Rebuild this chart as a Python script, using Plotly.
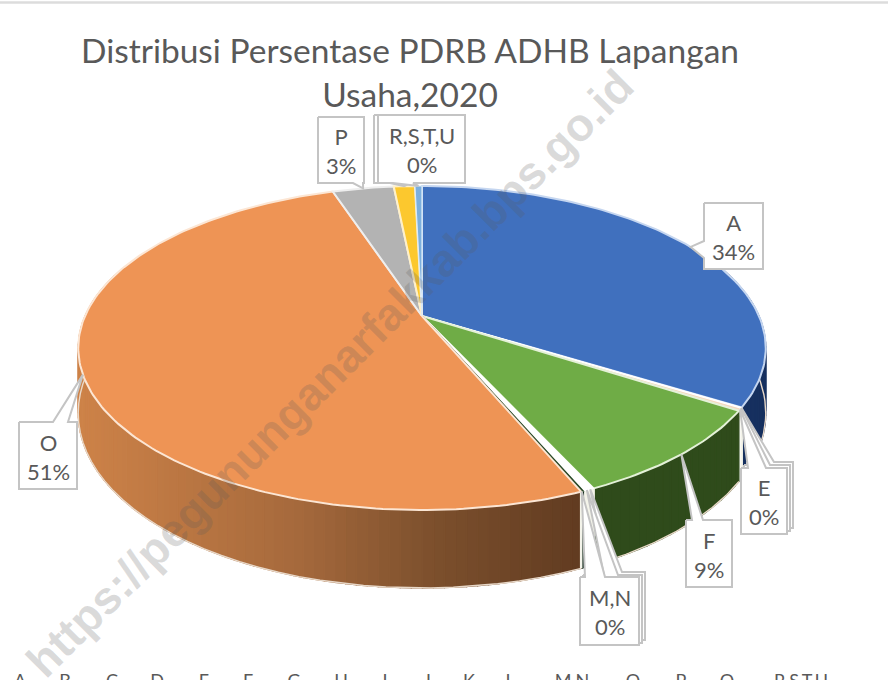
import math
import plotly.graph_objects as go

TITLE = "Distribusi Persentase PDRB ADHB Lapangan<br>Usaha,2020"
WATERMARK = "https://pegununganarfakkab.bps.go.id"

categories = ["A", "B", "C", "D", "E", "F", "G", "H", "I", "J", "K", "L", "M,N", "O", "P", "Q", "R,S,T,U"]
values = [33.85, 0.02, 0.02, 0.02, 0.25, 9.00, 0.10, 0.10, 0.05, 0.10, 0.10, 0.05, 0.05, 51.25, 3.49, 1.20, 0.40]
labels_pct = {"A": "34%", "E": "0%", "F": "9%", "M,N": "0%", "O": "51%", "P": "3%", "R,S,T,U": "0%"}

top_colors = ["#4070BE", "#ED7D31", "#A5A5A5", "#FFC000", "#F6D8C0", "#6FAC46", "#FFFFFF", "#FFFFFF",
              "#FFFFFF", "#FFFFFF", "#FFFFFF", "#43682B", "#43682B", "#EE9455", "#B3B3B3", "#FCC82E", "#7CAFDD"]
rim_colors = ["#C5D6F0", "#FFFFFF", "#FFFFFF", "#FFFFFF", "#FFFFFF", "#E4F1D8", "#FFFFFF", "#FFFFFF",
              "#FFFFFF", "#FFFFFF", "#FFFFFF", "#2A4A2A", "#2A4A2A", "#FCE6D4", "#EEEEEE", "#FFF0C8", "#DCEBF8"]
wall_colors = ["#16305F", "#FFFFFF", "#FFFFFF", "#FFFFFF", "#FFFFFF", "#2F4B1B", "#F4F4EA", "#F4F4EA",
               "#F4F4EA", "#F4F4EA", "#F4F4EA", "#10281A", "#10281A", None, "#777777", "#A08020", "#406080"]

# projection of the tilted disc on the page (page pixels as axis units)
CX, CY, A, B, K = 422.0, 316.0, 337.0, 155.7, 0.1975
W, H, CLIP = 888, 700, 680


def project(theta):
    u, v = math.sin(theta), math.cos(theta)
    d = 1 + K * v
    return CX + A * u / d, CY - B * v / d


def depth(theta):
    return 62 + 16 * max(0.0, -math.cos(theta))


def orange_wall(x):
    stops = [(80, (205, 130, 72)), (300, (165, 105, 60)), (430, (125, 80, 45)), (575, (98, 60, 33))]
    for (x0, c0), (x1, c1) in zip(stops, stops[1:]):
        if x <= x1:
            t = max(0.0, (x - x0) / (x1 - x0))
            return "rgb(%d,%d,%d)" % tuple(round(a + (b - a) * t) for a, b in zip(c0, c1))
    return "rgb(98,60,33)"


total = sum(values)
edges = [0.0]
for val in values:
    edges.append(edges[-1] + val / total * 2 * math.pi)
mid = {c: (edges[i] + edges[i + 1]) / 2 for i, c in enumerate(categories)}

fig = go.Figure()


def poly(xs, ys, fill, line, width=1.0, name=None, mode="lines"):
    fig.add_trace(go.Scatter(x=xs, y=ys, mode=mode, fill="toself" if fill else None, fillcolor=fill,
                             line=dict(color=line, width=width), hoverinfo="skip" if name is None else "text",
                             text=name, showlegend=False))


# side wall
for i, cat in enumerate(categories):
    a0, a1 = edges[i], edges[i + 1]
    n = max(1, int((a1 - a0) / math.radians(1.5)))
    for j in range(n):
        t0 = a0 + (a1 - a0) * j / n
        t1 = a0 + (a1 - a0) * (j + 1) / n
        if math.cos(t0) > 0.3 and math.cos(t1) > 0.3:
            continue
        ts = [t0 + (t1 - t0) * s / 2 for s in range(3)]
        top = [project(t) for t in ts]
        bot = [(project(t)[0], project(t)[1] + depth(t)) for t in ts]
        pts = top + bot[::-1]
        col = wall_colors[i] or orange_wall(sum(p[0] for p in top) / 3)
        poly([p[0] for p in pts] + [pts[0][0]], [p[1] for p in pts] + [pts[0][1]], col, col, 1.2)

# light edges of the wall
for i, cat in enumerate(categories):
    if cat not in ("A", "F", "O"):
        continue
    n = 60
    ts = [edges[i] + (edges[i + 1] - edges[i]) * s / n for s in range(n + 1)]
    ts = [t for t in ts if math.cos(t) < 0.2]
    poly([project(t)[0] for t in ts], [project(t)[1] + depth(t) for t in ts], None, "#E8D8C8", 1.4)
for idx in (0, 5, 12):
    t = edges[idx + 1]
    x, y = project(t)
    poly([x, x], [y, y + depth(t)], None, "#F4F4EA", 2.5)

# top face
for i, cat in enumerate(categories):
    a0, a1 = edges[i], edges[i + 1]
    n = max(2, int((a1 - a0) / math.radians(1)))
    arc = [project(a0 + (a1 - a0) * s / n) for s in range(n + 1)]
    xs = [CX] + [p[0] for p in arc] + [CX]
    ys = [CY] + [p[1] for p in arc] + [CY]
    poly(xs, ys, top_colors[i], rim_colors[i], 2 if values[i] > 1 else 1.2, name="%s: %s%%" % (cat, values[i]))


# callouts
def callout(box, base, side, tip):
    x0, y0, x1, y1 = box
    if side == "top":
        pts = [(x0, y0), (base[0], y0), tip, (base[1], y0), (x1, y0), (x1, y1), (x0, y1), (x0, y0)]
    elif side == "bottom":
        pts = [(x0, y0), (x1, y0), (x1, y1), (base[1], y1), tip, (base[0], y1), (x0, y1), (x0, y0)]
    else:
        pts = [(x0, y0), (x1, y0), (x1, y1), (x0, y1), (x0, base[1]), tip, (x0, base[0]), (x0, y0)]
    poly([p[0] for p in pts], [p[1] for p in pts], "#FFFFFF", "#C4C4C4", 2)


stack = [
    ((747, 462, 793, 528), (756, 774), "top", "C"),
    ((744, 465, 790, 531), (753, 770), "top", "D"),
    ((741, 468, 787, 534), (748, 766), "top", "E"),
    ((686, 520, 732, 587), (692, 703), "top", "F"),
    ((586, 572, 645, 640), (608, 622), "top", "H"),
    ((583, 575, 642, 643), (604, 618), "top", "J"),
    ((580, 577, 639, 645), (585, 605), "top", "M,N"),
    ((19, 422, 77, 489), (53, 68), "top", "O"),
    ((704, 203, 763, 269), (241, 258), "left", "A"),
    ((318, 117, 364, 183), (353, 363), "bottom", "P"),
    ((374, 115, 461, 183), (390, 410), "bottom", "Q"),
    ((378, 115, 465, 183), (393, 413), "bottom", "R,S,T,U"),
]
annots = []
for box, base, side, cat in stack:
    callout(box, base, side, project(mid[cat]))
    if cat in labels_pct:
        annots.append(dict(x=(box[0] + box[2]) / 2, y=(box[1] + box[3]) / 2 + 1, text="%s<br>%s" % (cat, labels_pct[cat]),
                           xref="x", yref="y", showarrow=False, font=dict(family="Lato", size=22, color="#595959")))

# cropped legend row
legend_x = [20, 65, 112, 157, 204, 248, 294, 341, 385, 427, 469, 510, 572, 633, 681, 727, 801]
fig.add_trace(go.Scatter(x=legend_x, y=[682] * len(categories), mode="text", text=categories, cliponaxis=True,
                         textposition="middle center", textfont=dict(family="Lato", size=18, color="#595959"),
                         hoverinfo="skip", showlegend=False))

annots.append(dict(x=330, y=373, xref="x", yref="y", text="<b>%s</b>" % WATERMARK, textangle=-45, showarrow=False,
                   font=dict(family="Liberation Sans", size=46, color="rgba(90,90,90,0.22)")))

fig.update_layout(
    width=W, height=H, margin=dict(l=0, r=0, t=0, b=H - CLIP), paper_bgcolor="#FFFFFF", plot_bgcolor="#FFFFFF",
    title=dict(text=TITLE, x=410 / W, xanchor="center", y=1 - 63 / H, yanchor="top",
               font=dict(family="Lato", size=33.5, color="#595959")),
    xaxis=dict(range=[0, W], visible=False, fixedrange=True),
    yaxis=dict(range=[CLIP, 0], visible=False, fixedrange=True),
    annotations=annots,
    shapes=[dict(type="line", xref="x", yref="y", x0=0, x1=W, y0=2.5, y1=2.5, line=dict(color="#DCDCDC", width=2.5))],
)
fig.write_html("out.html", config=dict(displayModeBar=False),
               post_script="document.body.style.margin='0';document.body.style.overflow='hidden';")
